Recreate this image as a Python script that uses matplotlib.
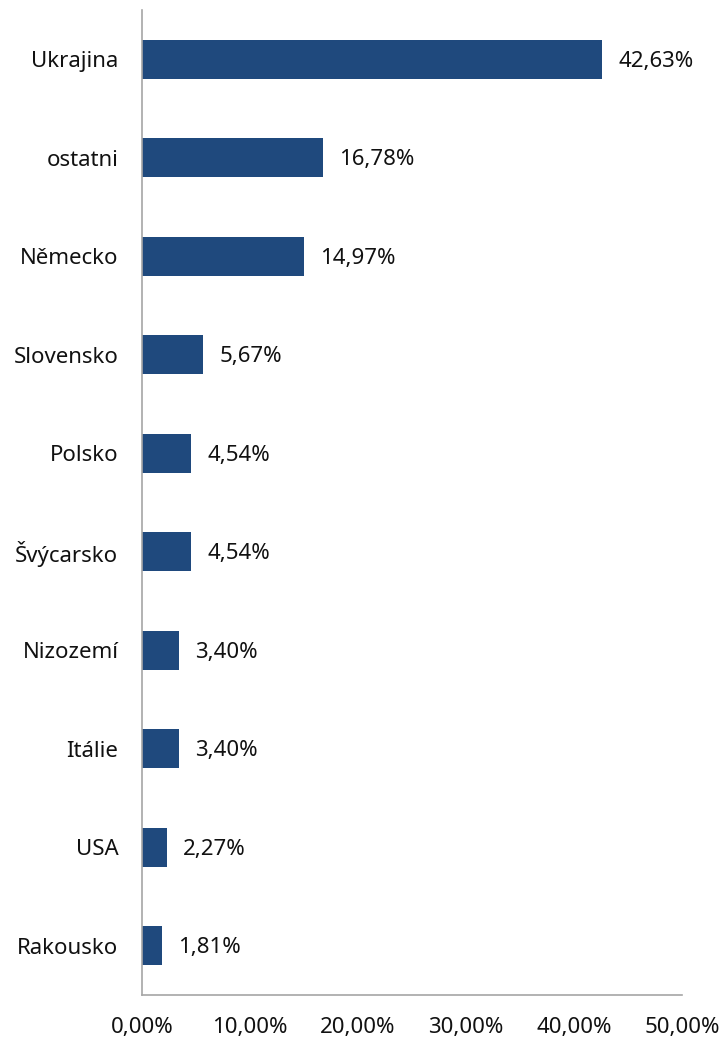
import matplotlib
matplotlib.use('Agg')
import matplotlib.pyplot as plt

plt.rcParams['font.family'] = ['Noto Sans', 'DejaVu Sans']

countries = ['Ukrajina', 'ostatni', 'Německo', 'Slovensko', 'Polsko',
             'Švýcarsko', 'Nizozemí', 'Itálie', 'USA', 'Rakousko']
shares = [42.63, 16.78, 14.97, 5.67, 4.54, 4.54, 3.40, 3.40, 2.27, 1.81]
x_ticks = [0, 10, 20, 30, 40, 50]

BAR_COLOR = '#1f497d'
SPINE_COLOR = '#a6a6a6'
FS = 16


def pct(v):
    return f'{v:.2f}'.replace('.', ',') + '%'


fig = plt.figure(figsize=(7.25, 10.41), dpi=100)
ax = fig.add_axes([142 / 725, 1 - 995 / 1041, 540 / 725, 985 / 1041])

y = list(range(len(countries)))
ax.barh(y, shares, height=0.4, color=BAR_COLOR)
for yi, v in zip(y, shares):
    ax.text(v + 1.5, yi + 0.02, pct(v), va='center', ha='left', fontsize=FS, color='#111111')

ax.set_xlim(0, 50)
ax.set_ylim(len(countries) - 0.5, -0.5)
ax.set_yticks(y)
ax.set_yticklabels(countries, fontsize=FS, color='#111111')
ax.set_xticks(x_ticks)
ax.set_xticklabels([pct(t) for t in x_ticks], fontsize=FS, color='#111111')
ax.tick_params(axis='both', length=0)
ax.tick_params(axis='y', pad=17)
ax.tick_params(axis='x', pad=16)

for side in ['top', 'right']:
    ax.spines[side].set_visible(False)
for side in ['left', 'bottom']:
    ax.spines[side].set_color(SPINE_COLOR)
    ax.spines[side].set_linewidth(1.2)

fig.savefig('out.png', dpi=100, facecolor='white')
